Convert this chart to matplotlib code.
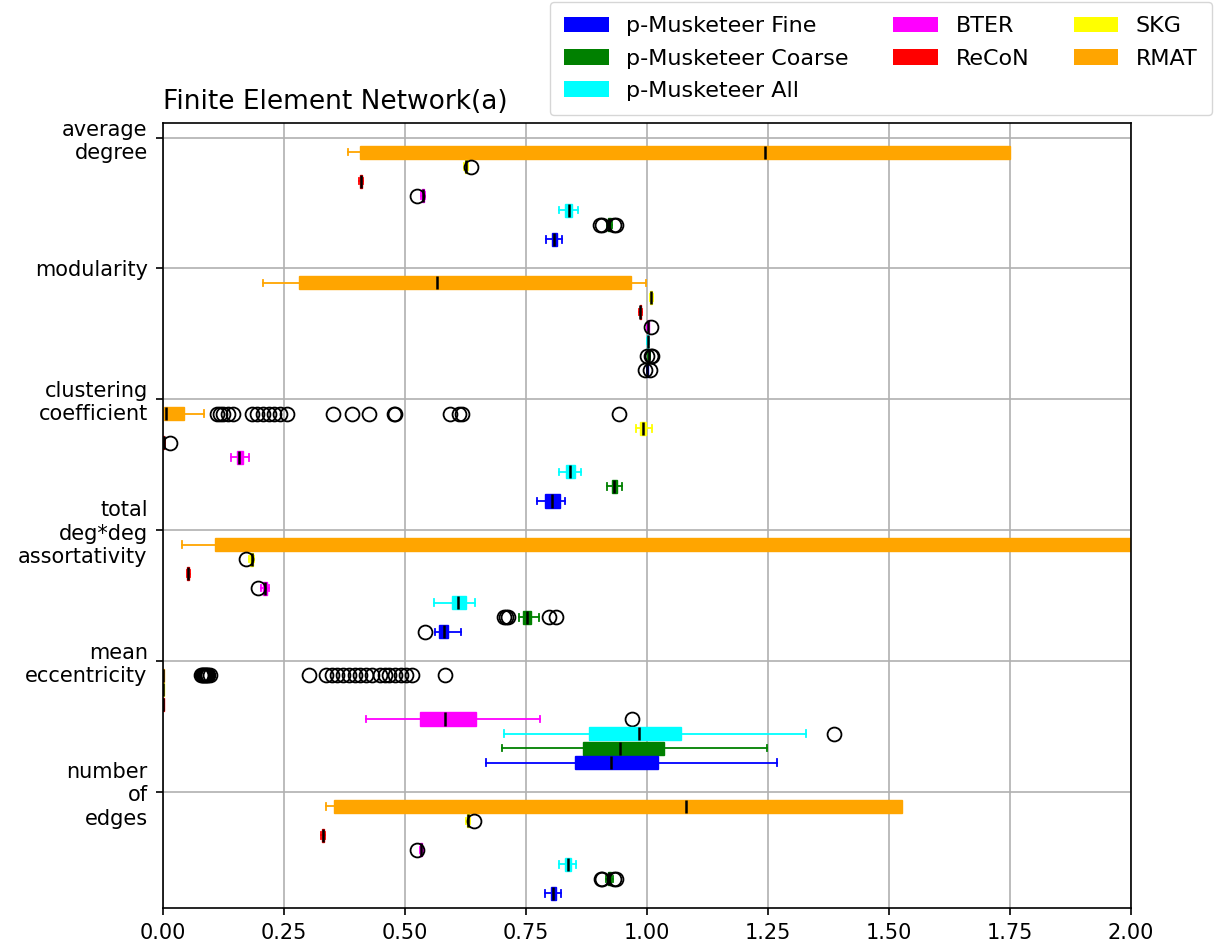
import matplotlib
matplotlib.use('Agg')
import matplotlib.pyplot as plt
from matplotlib.patches import Patch

metrics = ['average\ndegree', 'modularity', 'clustering\ncoefficient',
           'total\ndeg*deg\nassortativity', 'mean\neccentricity', 'number\nof\nedges']
methods = ['RMAT', 'SKG', 'ReCoN', 'BTER', 'p-Musketeer All', 'p-Musketeer Coarse', 'p-Musketeer Fine']
colors = ['orange', 'yellow', 'red', 'magenta', 'cyan', 'green', 'blue']
legend_order = [6, 5, 4, 3, 2, 1, 0]

# box stats per method: (whislo, q1, med, q3, whishi), order as in methods
avg_degree = [(0.382, 0.407, 1.244, 1.751, 1.751), (0.622, 0.624, 0.626, 0.628, 0.630),
              (0.405, 0.407, 0.409, 0.411, 0.413), (0.533, 0.535, 0.537, 0.539, 0.541),
              (0.818, 0.830, 0.838, 0.845, 0.857), (0.917, 0.920, 0.922, 0.925, 0.928),
              (0.792, 0.803, 0.808, 0.814, 0.825)]
avg_degree_fliers = [[], [0.637], [], [0.525], [], [0.903, 0.907, 0.932, 0.936], []]

modularity = [(0.206, 0.281, 0.567, 0.967, 0.998), (1.006, 1.007, 1.009, 1.011, 1.012),
              (0.983, 0.985, 0.986, 0.987, 0.989), (1.001, 1.002, 1.003, 1.004, 1.005),
              (1.000, 1.001, 1.002, 1.003, 1.004), (1.002, 1.003, 1.004, 1.005, 1.006),
              (0.999, 1.000, 1.001, 1.002, 1.003)]
modularity_fliers = [[], [], [], [1.008], [], [1.000, 1.009, 1.011], [0.996, 1.006]]

clustering = [(0.0, 0.002, 0.007, 0.043, 0.085), (0.977, 0.985, 0.991, 0.997, 1.010),
              (0.0, 0.001, 0.002, 0.003, 0.004), (0.140, 0.152, 0.158, 0.165, 0.177),
              (0.818, 0.832, 0.841, 0.852, 0.864), (0.917, 0.927, 0.932, 0.938, 0.949),
              (0.773, 0.790, 0.803, 0.820, 0.831)]
clustering_fliers = [[0.111, 0.118, 0.123, 0.135, 0.145, 0.183, 0.194, 0.206, 0.218, 0.230,
                      0.242, 0.256, 0.351, 0.390, 0.426, 0.477, 0.480, 0.592, 0.612, 0.617, 0.942],
                     [], [0.014], [], [], [], []]

assortativity = [(0.040, 0.107, 2.6, 4.0, 6.0), (0.178, 0.180, 0.183, 0.185, 0.188),
                 (0.049, 0.050, 0.052, 0.053, 0.055), (0.203, 0.207, 0.210, 0.214, 0.218),
                 (0.560, 0.598, 0.610, 0.627, 0.645), (0.736, 0.744, 0.752, 0.761, 0.776),
                 (0.562, 0.570, 0.580, 0.589, 0.615)]
assortativity_fliers = [[], [0.171], [], [0.197], [], [0.704, 0.708, 0.713, 0.797, 0.811], [0.541]]

eccentricity = [(0.0, 0.0005, 0.001, 0.002, 0.003), (0.0, 0.0, 0.001, 0.002, 0.003),
                (0.0, 0.0, 0.001, 0.002, 0.003), (0.420, 0.532, 0.583, 0.646, 0.778),
                (0.704, 0.881, 0.983, 1.071, 1.329), (0.701, 0.868, 0.945, 1.036, 1.247),
                (0.668, 0.851, 0.926, 1.022, 1.268)]
eccentricity_fliers = [[0.078, 0.081, 0.083, 0.085, 0.087, 0.089, 0.091, 0.094, 0.098,
                        0.301, 0.337, 0.349, 0.360, 0.372, 0.384, 0.396, 0.408, 0.420, 0.432,
                        0.449, 0.458, 0.467, 0.479, 0.491, 0.503, 0.515, 0.582],
                       [], [], [0.968], [1.387], [], []]

num_edges = [(0.337, 0.353, 1.080, 1.526, 1.526), (0.626, 0.628, 0.631, 0.633, 0.635),
             (0.326, 0.328, 0.330, 0.332, 0.334), (0.530, 0.532, 0.534, 0.536, 0.538),
             (0.819, 0.830, 0.836, 0.843, 0.853), (0.915, 0.919, 0.922, 0.926, 0.930),
             (0.790, 0.801, 0.806, 0.812, 0.823)]
num_edges_fliers = [[], [0.643], [], [0.524], [], [0.904, 0.908, 0.932, 0.936], []]

all_stats = [avg_degree, modularity, clustering, assortativity, eccentricity, num_edges]
all_fliers = [avg_degree_fliers, modularity_fliers, clustering_fliers,
              assortativity_fliers, eccentricity_fliers, num_edges_fliers]

fig = plt.figure(figsize=(12.16, 9.51), dpi=100)
ax = fig.add_axes([163 / 1216, 1 - 908 / 951, (1131 - 163) / 1216, (908 - 123) / 951])

group_step = len(methods) + 2
for g, (stats, fliers) in enumerate(zip(all_stats, all_fliers)):
    for m, (s, fl) in enumerate(zip(stats, fliers)):
        c = colors[m]
        bs = [dict(whislo=s[0], q1=s[1], med=s[2], q3=s[3], whishi=s[4], fliers=fl)]
        ax.bxp(bs, positions=[g * group_step + m + 1], widths=0.9, vert=False,
               patch_artist=True, showfliers=True,
               boxprops=dict(facecolor=c, edgecolor=c, linewidth=1),
               whiskerprops=dict(color=c, linewidth=1.3),
               capprops=dict(color=c, linewidth=1.3),
               medianprops=dict(color='black', linewidth=1.8),
               flierprops=dict(marker='o', markerfacecolor='none', markeredgecolor='black',
                               markersize=10, markeredgewidth=1.3))

ax.set_xlim(0, 2.0)
ax.set_ylim(len(metrics) * group_step - 1, -1)
ax.set_xticks([0, 0.25, 0.5, 0.75, 1.0, 1.25, 1.5, 1.75, 2.0])
ax.set_xticklabels(['0.00', '0.25', '0.50', '0.75', '1.00', '1.25', '1.50', '1.75', '2.00'])
ax.set_yticks([g * group_step for g in range(len(metrics))])
ax.set_yticklabels(metrics)
ax.tick_params(labelsize=15, length=5, pad=6, width=1.2)
for sp in ax.spines.values():
    sp.set_linewidth(1.2)
ax.grid(True, color='#b0b0b0', linewidth=1.2)
ax.set_axisbelow(True)
ax.set_title('Finite Element Network(a)', loc='left', fontsize=19, pad=10)

handles = [Patch(facecolor=colors[i], label=methods[i]) for i in legend_order]
fig.legend(handles=handles, loc='upper right', bbox_to_anchor=(1212 / 1216, 1 - 2 / 951),
           borderaxespad=0, ncol=3, fontsize=16, handlelength=2.0, columnspacing=2.0,
           labelspacing=0.55, borderpad=0.65)

fig.savefig('out.png', dpi=100)
